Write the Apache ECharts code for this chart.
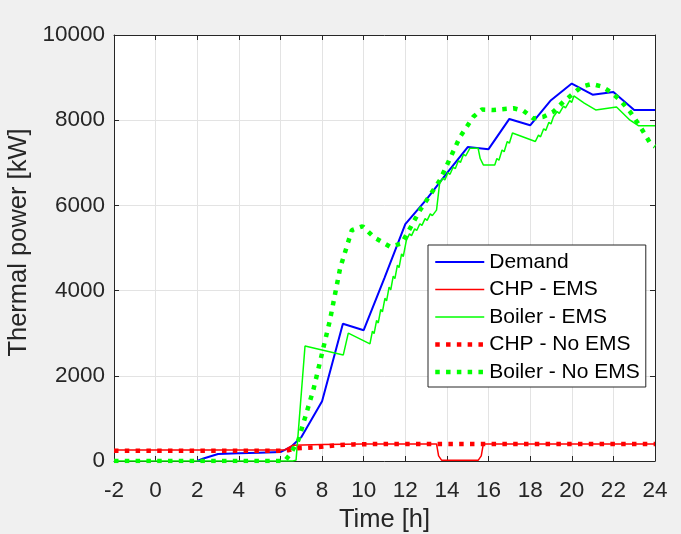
<!DOCTYPE html>
<html>
<head>
<meta charset="utf-8">
<script src="https://cdn.jsdelivr.net/npm/echarts@6/dist/echarts.min.js"></script>
<style>
html,body{margin:0;padding:0;background:#f0f0f0;}
#chart{width:681px;height:534px;}
</style>
</head>
<body>
<div id="chart"></div>
<script>
// ---- data (hours, kW) ----
const seriesNames = ['Demand', 'CHP - EMS', 'Boiler - EMS', 'CHP - No EMS', 'Boiler - No EMS'];
const xTicks = [-2, 0, 2, 4, 6, 8, 10, 12, 14, 16, 18, 20, 22, 24];
const yTicks = [0, 2000, 4000, 6000, 8000, 10000];

const demandT = [2, 2.3, 3, 4, 5, 6, 6.5, 7, 8, 9, 10, 11, 12, 13, 14, 15, 16, 17, 18, 19, 20, 21, 22, 23, 24];
const demandV = [0, 60, 165, 180, 195, 210, 330, 560, 1400, 3220, 3070, 4300, 5560, 6130, 6760, 7370, 7320, 8030, 7880, 8470, 8860, 8600, 8660, 8240, 8240];

const chpEmsT = [-2, 6.2, 6.6, 8, 10, 13.5, 13.6, 13.75, 15.5, 15.65, 15.75, 24];
const chpEmsV = [260, 260, 370, 385, 400, 400, 120, 15, 15, 120, 400, 400];

const boilerEmsT = [-2, 6.6, 6.75, 7.18, 9.02, 9.1, 9.26, 10.3,
  10.42, 10.5, 10.62, 10.7, 10.82, 10.9, 11.02, 11.1, 11.22, 11.3, 11.42, 11.5, 11.62, 11.7, 11.82, 11.9, 12.05,
  12.2, 12.3, 12.45, 12.55, 12.7, 12.8, 12.95, 13.05, 13.2, 13.3, 13.5, 13.65,
  13.8, 13.9, 14.05, 14.15, 14.3, 14.4, 14.55, 14.65, 14.8, 14.9, 15.1, 15.5, 15.6, 15.75, 16.3,
  16.4, 16.5, 16.65, 16.75, 16.9, 17.0, 17.15, 18.25,
  18.4, 18.5, 18.65, 18.75, 18.9, 19.0, 19.12,
  19.3, 19.4, 19.6, 19.7, 19.9, 20.0, 20.1, 20.6, 21.15, 22.15, 22.8, 23.2, 24];
const boilerEmsV = [0, 0, 20, 2700, 2490, 2490, 3000, 2750,
  3050, 2990, 3300, 3240, 3560, 3500, 3820, 3760, 4080, 4020, 4340, 4280, 4600, 4540, 4860, 4800, 5180,
  5330, 5290, 5450, 5410, 5570, 5530, 5690, 5650, 5800, 5760, 5890, 6520,
  6640, 6600, 6770, 6730, 6900, 6860, 7050, 7010, 7200, 7160, 7340, 7340, 7100, 6950, 6950,
  7100, 7060, 7300, 7260, 7500, 7460, 7700, 7500,
  7650, 7610, 7800, 7760, 7950, 7910, 8080,
  8200, 8160, 8330, 8290, 8460, 8420, 8570, 8400, 8240, 8310, 8000, 7870, 7870];

const chpNoEmsT = [-2, 6, 6.4, 6.7, 7.7, 8.8, 9.5, 11, 24];
const chpNoEmsV = [240, 240, 255, 295, 320, 375, 390, 400, 400];

const boilerNoEmsT = [-2, 6.2, 6.5, 6.86, 7, 7.58, 8, 8.38, 8.87, 9.43, 9.95, 10.5, 11.27, 11.83, 12.71, 13.67, 14.63, 15.27, 15.68, 16.24, 17.2, 17.68, 18.16, 18.64, 19.12, 19.6, 20.08, 20.48, 20.96, 21.44, 21.85, 22.33, 22.8, 23.29, 23.77, 24];
const boilerNoEmsV = [0, 0, 180, 490, 720, 1670, 2530, 3310, 4530, 5420, 5510, 5250, 5030, 5110, 5890, 6600, 7610, 8080, 8250, 8240, 8280, 8220, 8040, 8080, 8200, 8435, 8630, 8790, 8850, 8790, 8670, 8470, 8200, 7850, 7460, 7380];

function zip(t, v) { return t.map((x, i) => [x, v[i]]); }

const FONT = 'Liberation Sans, Arial, Helvetica, sans-serif';
const TXT = '#262626';
const AX = '#262626';
const BLUE = '#0000ff', RED = '#ff0000', GREEN = '#00ff00';
const DOT = [4.5, 6.3];

const chart = echarts.init(document.getElementById('chart'));
const axisCommon = {
  type: 'value',
  axisLine: { show: true, onZero: false, lineStyle: { color: AX, width: 1 } },
  axisTick: { show: true, inside: true, length: 5, lineStyle: { color: AX } },
  splitLine: { show: false }
};
const plain = v => String(v);
const option = {
  animation: false,
  backgroundColor: '#f0f0f0',
  grid: { left: 114, right: 26, top: 35, bottom: 73, containLabel: false, outerBoundsMode: 'none',
          show: true, backgroundColor: '#ffffff', borderWidth: 0 },
  xAxis: [
    Object.assign({}, axisCommon, {
      min: xTicks[0], max: xTicks[xTicks.length - 1], interval: 2, position: 'bottom',
      name: 'Time [h]', nameLocation: 'middle', nameGap: 42,
      nameTextStyle: { fontFamily: FONT, fontSize: 25.5, color: TXT },
      axisLabel: { fontFamily: FONT, fontSize: 22.5, color: TXT, margin: 18, formatter: plain },
      splitLine: { show: true, lineStyle: { color: '#e3e3e3', width: 1 } }
    }),
    Object.assign({}, axisCommon, {
      min: xTicks[0], max: xTicks[xTicks.length - 1], interval: 2, position: 'top',
      axisLabel: { show: false }
    })
  ],
  yAxis: [
    Object.assign({}, axisCommon, {
      min: yTicks[0], max: yTicks[yTicks.length - 1], interval: 2000, position: 'left',
      name: 'Thermal power [kW]', nameLocation: 'middle', nameGap: 80,
      nameTextStyle: { fontFamily: FONT, fontSize: 25.5, color: TXT, padding: [0, 0, 0, 11] },
      axisLabel: { fontFamily: FONT, fontSize: 22.5, color: TXT, margin: 9, formatter: plain },
      splitLine: { show: true, lineStyle: { color: '#e3e3e3', width: 1 } }
    }),
    Object.assign({}, axisCommon, {
      min: yTicks[0], max: yTicks[yTicks.length - 1], interval: 2000, position: 'right',
      axisLabel: { show: false }
    })
  ],
  legend: {
    orient: 'vertical',
    left: 428, top: 245,
    padding: [6, 6, 4, 5],
    itemGap: 5.5,
    itemWidth: 49,
    itemHeight: 14,
    itemStyle: { opacity: 0 },
    backgroundColor: '#ffffff',
    borderColor: AX,
    borderWidth: 1,
    textStyle: { fontFamily: FONT, fontSize: 21, color: '#000', lineHeight: 22 },
    data: [
      { name: seriesNames[0], lineStyle: { color: BLUE, width: 2 } },
      { name: seriesNames[1], lineStyle: { color: RED, width: 1.5 } },
      { name: seriesNames[2], lineStyle: { color: GREEN, width: 1.5 } },
      { name: seriesNames[3], lineStyle: { color: RED, width: 4.5, type: DOT } },
      { name: seriesNames[4], lineStyle: { color: GREEN, width: 4.5, type: DOT } }
    ]
  },
  series: [
    { name: seriesNames[0], type: 'line', data: zip(demandT, demandV), showSymbol: false, symbol: 'none',
      lineStyle: { color: BLUE, width: 2 }, itemStyle: { color: BLUE } },
    { name: seriesNames[1], type: 'line', data: zip(chpEmsT, chpEmsV), showSymbol: false, symbol: 'none',
      lineStyle: { color: RED, width: 1.5 }, itemStyle: { color: RED } },
    { name: seriesNames[2], type: 'line', data: zip(boilerEmsT, boilerEmsV), showSymbol: false, symbol: 'none',
      lineStyle: { color: GREEN, width: 1.5 }, itemStyle: { color: GREEN } },
    { name: seriesNames[3], type: 'line', data: zip(chpNoEmsT, chpNoEmsV), showSymbol: false, symbol: 'none',
      lineStyle: { color: RED, width: 4.5, type: DOT }, itemStyle: { color: RED } },
    { name: seriesNames[4], type: 'line', data: zip(boilerNoEmsT, boilerNoEmsV), showSymbol: false, symbol: 'none',
      lineStyle: { color: GREEN, width: 4.5, type: DOT }, itemStyle: { color: GREEN } }
  ]
};
chart.setOption(option);
</script>
</body>
</html>
